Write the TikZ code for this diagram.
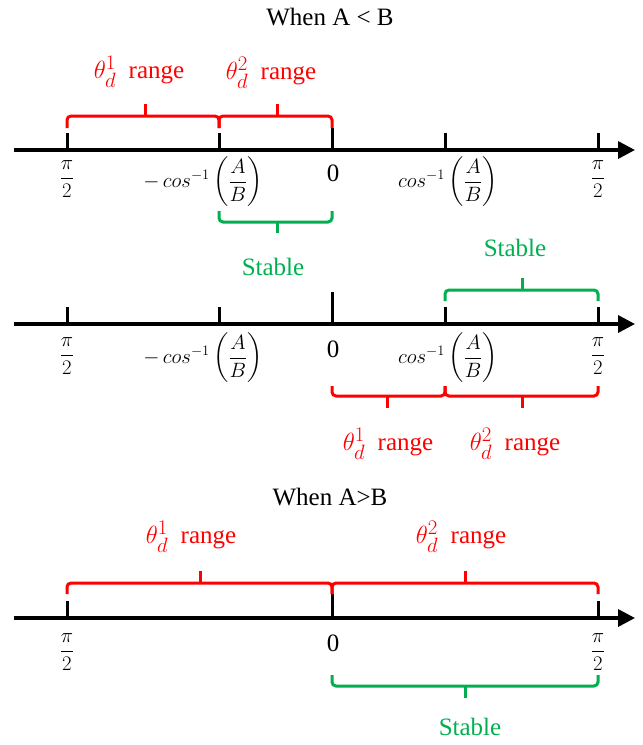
\documentclass[tikz,border=0pt]{standalone}
\usepackage{amsmath}
\usepackage{fontspec}
\setmainfont{Liberation Serif}
\usetikzlibrary{arrows.meta}
\definecolor{myred}{HTML}{FF0000}
\definecolor{mygreen}{HTML}{00B050}
\newcommand{\thd}[1]{{\fontsize{28}{30}\selectfont$\theta_d^{#1}$}}
\begin{document}
\begin{tikzpicture}[x=1pt,y=-1pt,
  font=\fontsize{25}{30}\selectfont,
  axisline/.style={line width=3.5pt, -{Triangle[length=17pt,width=17pt]}},
  tickline/.style={line width=3pt},
  bracel/.style={line width=3pt, rounded corners=4pt},
  lbl/.style={inner sep=0pt, anchor=center},
  mlbl/.style={inner sep=0pt, anchor=center, font=\fontsize{22}{26}\selectfont},
  rlbl/.style={inner sep=0pt, anchor=center, text=myred},
  glbl/.style={inner sep=0pt, anchor=center, text=mygreen}]
\useasboundingbox (0,0) rectangle (643,745);

% ---------- titles
\node[lbl] (title1) at (330,17) {When A < B};
\node[lbl] (title2) at (330,497) {When A>B};

% ---------- axis 1
\coordinate (L1) at (14,150);
\coordinate (R1) at (635,150);
\draw[axisline] (L1) -- (R1);
\coordinate (a1) at (67,150);
\coordinate (b1) at (219,150);
\coordinate (c1) at (332,150);
\coordinate (d1) at (445,150);
\coordinate (e1) at (598,150);
\foreach \p in {a1,b1,d1,e1} \draw[tickline] (\p) -- ++(0,-17);
\draw[tickline] (c1) -- ++(0,-22);
\node[mlbl] (pa1) at (67,179) {$\dfrac{\pi}{2}$};
\node[mlbl] (pb1) at (203,182) {$-\,cos^{-1}\left(\dfrac{A}{B}\right)$};
\node[lbl] (pc1) at (333,173) {0};
\node[mlbl] (pd1) at (448,182) {$cos^{-1}\left(\dfrac{A}{B}\right)$};
\node[mlbl] (pe1) at (598,179) {$\dfrac{\pi}{2}$};
% red brackets above
\draw[bracel,myred] (67,128) -- (67,116) -- (219,116) -- (219,128);
\draw[bracel,myred] (219,128) -- (219,116) -- (332,116) -- (332,128);
\draw[bracel,myred] (145,117) -- (145,104);
\draw[bracel,myred] (277,117) -- (277,104);
\node[rlbl] (r11) at (139,72) {\thd{1}~~range};
\node[rlbl] (r12) at (271,73) {\thd{2}~~range};
% green bracket below
\draw[bracel,mygreen] (219,211) -- (219,222) -- (332,222) -- (332,211);
\draw[bracel,mygreen] (277,221) -- (277,233);
\node[glbl] (s1) at (273,267) {Stable};

% ---------- axis 2
\coordinate (L2) at (14,324);
\coordinate (R2) at (635,324);
\draw[axisline] (L2) -- (R2);
\coordinate (a2) at (67,324);
\coordinate (b2) at (219,324);
\coordinate (c2) at (332,324);
\coordinate (d2) at (445,324);
\coordinate (e2) at (598,324);
\foreach \p in {a2,b2,d2,e2} \draw[tickline] (\p) -- ++(0,-17);
\draw[tickline] (c2) -- ++(0,-32);
\node[mlbl] (pa2) at (67,356) {$\dfrac{\pi}{2}$};
\node[mlbl] (pb2) at (203,358) {$-\,cos^{-1}\left(\dfrac{A}{B}\right)$};
\node[lbl] (pc2) at (333,349) {0};
\node[mlbl] (pd2) at (448,358) {$cos^{-1}\left(\dfrac{A}{B}\right)$};
\node[mlbl] (pe2) at (598,356) {$\dfrac{\pi}{2}$};
% green bracket above
\draw[bracel,mygreen] (445,301) -- (445,290) -- (598,290) -- (598,301);
\draw[bracel,mygreen] (522,291) -- (522,278);
\node[glbl] (s2) at (515,248) {Stable};
% red brackets below
\draw[bracel,myred] (332,386) -- (332,396) -- (445,396) -- (445,386);
\draw[bracel,myred] (445,386) -- (445,396) -- (598,396) -- (598,386);
\draw[bracel,myred] (387,395) -- (387,408);
\draw[bracel,myred] (522,395) -- (522,408);
\node[rlbl] (r21) at (388,444) {\thd{1}~~range};
\node[rlbl] (r22) at (515,444) {\thd{2}~~range};

% ---------- axis 3
\coordinate (L3) at (14,618);
\coordinate (R3) at (635,618);
\draw[axisline] (L3) -- (R3);
\coordinate (a3) at (67,618);
\coordinate (c3) at (332,618);
\coordinate (e3) at (598,618);
\foreach \p in {a3,e3} \draw[tickline] (\p) -- ++(0,-17);
\draw[tickline] (c3) -- ++(0,-24);
\node[mlbl] (pa3) at (67,652) {$\dfrac{\pi}{2}$};
\node[lbl] (pc3) at (333,643) {0};
\node[mlbl] (pe3) at (598,652) {$\dfrac{\pi}{2}$};
% red brackets above
\draw[bracel,myred] (67,594) -- (67,583) -- (332,583) -- (332,594);
\draw[bracel,myred] (332,594) -- (332,583) -- (598,583) -- (598,594);
\draw[bracel,myred] (200,584) -- (200,571);
\draw[bracel,myred] (465,584) -- (465,571);
\node[rlbl] (r31) at (191,537) {\thd{1}~~range};
\node[rlbl] (r32) at (461,537) {\thd{2}~~range};
% green bracket below
\draw[bracel,mygreen] (332,675) -- (332,686) -- (598,686) -- (598,675);
\draw[bracel,mygreen] (465,685) -- (465,698);
\node[glbl] (s3) at (470,727) {Stable};
\end{tikzpicture}
\end{document}
